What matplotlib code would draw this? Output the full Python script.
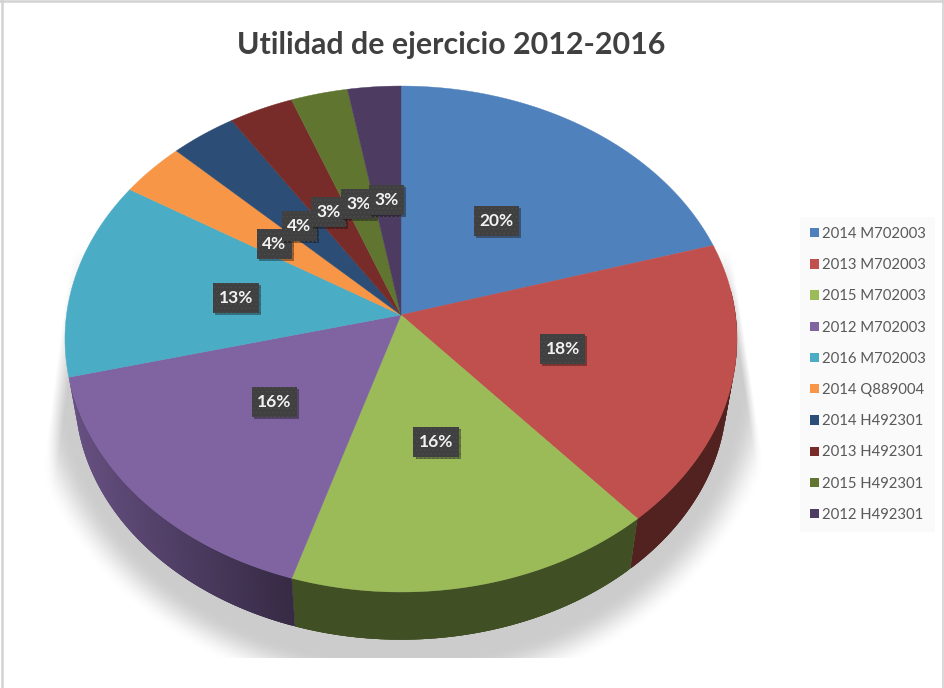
import numpy as np
import matplotlib
matplotlib.use("Agg")
import matplotlib.pyplot as plt
from matplotlib.patches import Polygon, Patch
from matplotlib.path import Path
from matplotlib import patheffects as pe

categories = ["2014 M702003", "2013 M702003", "2015 M702003", "2012 M702003", "2016 M702003",
              "2014 Q889004", "2014 H492301", "2013 H492301", "2015 H492301", "2012 H492301"]
values = [20.4, 18.2, 16.2, 16.3, 12.7, 3.5, 3.5, 3.4, 3.0, 2.8]
colors = ["#4f81bd", "#c0504d", "#9bbb59", "#8064a2", "#4bacc6",
          "#f79646", "#2c4d75", "#772c2a", "#5f7530", "#4d3b62"]
title = "Utilidad de ejercicio 2012-2016"

plt.rcParams["font.family"] = ["Lato", "DejaVu Sans"]
plt.rcParams["hatch.linewidth"] = 0.4

W, H = 944, 688
fig = plt.figure(figsize=(W / 100, H / 100), dpi=100, facecolor="white")
ax = fig.add_axes([0, 0, 1, 1])
ax.set_xlim(0, W)
ax.set_ylim(H, 0)
ax.axis("off")

# perspective projection of the unit disc onto the page
CX, CY, RX, A, K = 401, 315, 334.5, 250.7, 0.0949
DROP, SHRINK = 56, 0.97


def project(theta, r=1.0, lower=False):
    x, y = r * np.sin(theta), r * np.cos(theta)
    d = 1 + K * y
    px, py = RX * x / d, -A * y / d
    if lower:
        return CX + SHRINK * px, CY + DROP + SHRINK * py
    return CX + px, CY + py


# soft shadow under the pie, cropped to its own box
sx0, sx1, sy0, sy1 = 36, 770, 250, 658
gx, gy = np.meshgrid(np.arange(sx0, sx1) + .5, np.arange(sy0, sy1) + .5)
dist = np.hypot((gx - 401) / 385, (gy - 360) / 340)
t = np.clip((1 - dist) / 0.11, 0, 1)
smooth = t * t * (3 - 2 * t)
left_edge = np.clip((gx - (60 - (gy - 340) * 0.13)) / 14, 0, 1)
right_edge = np.clip(((745 + (gy - 340) * 0.15) - gx) / 8, 0, 1)
top_edge = np.clip((gy - sy0) / 60, 0, 1)
rgba = np.zeros(gx.shape + (4,))
rgba[..., :3] = 0.62
rgba[..., 3] = smooth * left_edge * right_edge * top_edge * 0.52
ax.imshow(rgba, extent=(sx0, sx1, sy1, sy0), interpolation="bilinear", zorder=1, aspect="auto")
ax.set_xlim(0, W)
ax.set_ylim(H, 0)

fractions = np.array(values) / np.sum(values)
edges = np.concatenate([[0], np.cumsum(fractions)]) * 2 * np.pi


def darker(color, f):
    return tuple(c * f for c in matplotlib.colors.to_rgb(color))


# side wall: overlapping strips so the shade changes along the rim without seams
for a0, a1, c in zip(edges[:-1], edges[1:], colors):
    n = max(int((a1 - a0) / 0.006), 2)
    th = np.linspace(a0, a1, n + 1)
    step = th[1] - th[0]
    for t0 in th[:-1]:
        t1 = min(t0 + 3 * step, a1)
        tm = t0 + step / 2
        if np.cos(tm) > 0.1 or (np.sin(tm) < 0 and np.cos(tm) > -0.24):
            continue
        tt = np.array([t0, t1])
        xa, ya = project(tt)
        xc, yc = project(tt[::-1], lower=True)
        xm = project(tm)[0]
        shade = 0.42 + 0.38 * np.clip((292 - xm) / 223, 0, 1)
        ax.add_patch(Polygon(np.column_stack([np.r_[xa, xc], np.r_[ya, yc]]), closed=True,
                             fc=darker(c, shade), ec="none", zorder=2))

# top face
for a0, a1, c in zip(edges[:-1], edges[1:], colors):
    th = np.linspace(a0, a1, max(int((a1 - a0) / 0.01), 2))
    px, py = project(th)
    pts = [(CX, CY)] + list(zip(px, py))
    ax.add_patch(Polygon(pts, closed=True, fc=c, ec=c, lw=0.3, zorder=3))


def label_box(x0, y0, width, height, mutation_size):
    padx, pady = 5.5, 7.0
    x1, y1 = x0 + width + padx, y0 + height + pady
    x0, y0 = x0 - padx, y0 - pady
    return Path([(x0, y0), (x1, y0), (x1, y1), (x0, y1), (x0, y0)], closed=True)


# data labels
for a0, a1, v in zip(edges[:-1], edges[1:], values):
    mid = (a0 + a1) / 2
    lx, ly = project(mid, r=0.49 if v < 5 else 0.5)
    dy = 2.3 if np.cos(mid) > 0 else -1.7
    txt = ax.text(lx - 1, ly + dy, f"{v:.0f}%", color="#f2f2f2", fontsize=12.5, fontweight="bold",
                  ha="center", va="center", zorder=5,
                  bbox=dict(boxstyle=label_box, fc="#404040", ec="#4e4e4e", lw=0, hatch="...."))
    txt.get_bbox_patch().set_path_effects(
        [pe.SimplePatchShadow(offset=(1.5, -1.5), shadow_rgbFace="#000000", alpha=0.35), pe.Normal()])

ax.text(451.5, 45, title, fontsize=21.9, fontweight="bold", color="#404040",
        ha="center", va="center", zorder=6)

handles = [Patch(fc=c, ec="none", label=l) for c, l in zip(colors, categories)]
leg = ax.legend(handles=handles, loc="upper left",
                bbox_to_anchor=(800 / W, 1 - 217 / H), bbox_transform=fig.transFigure,
                frameon=True, facecolor="#fafafa", edgecolor="none", framealpha=1, fancybox=False,
                fontsize=10.7, labelcolor="#595959", labelspacing=1.16,
                handlelength=0.6, handleheight=0.6, handletextpad=0.2,
                borderaxespad=0, borderpad=0.66)
leg.set_zorder(6)

# chart frame
ax.plot([2, 2], [0, H], color="#d2d2d2", lw=1.8, zorder=7)
ax.plot([0, W], [1.2, 1.2], color="#d2d2d2", lw=1.8, zorder=7)
ax.plot([943, 943], [0, H], color="#d2d2d2", lw=1.2, zorder=7)

fig.savefig("out.png", dpi=100)
